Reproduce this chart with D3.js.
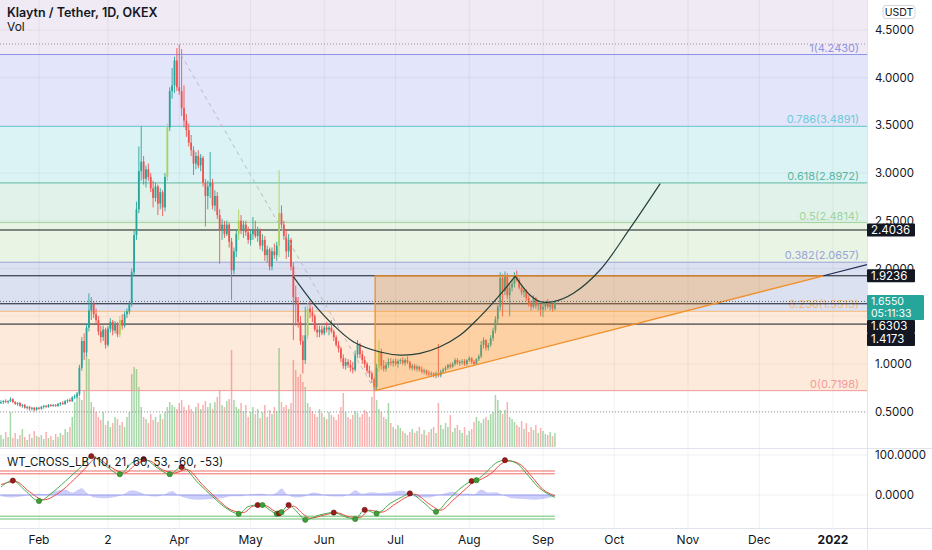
<!DOCTYPE html>
<html>
<head>
<meta charset="utf-8">
<script src="https://cdn.jsdelivr.net/npm/d3@7"></script>
<style>
html, body { margin: 0; padding: 0; background: #fff; }
svg { display: block; font-family: Inter, "Noto Sans", sans-serif; }
</style>
</head>
<body>
<svg id="chart" width="932" height="550"></svg>
<script>
// daily candles from 2021-01-16, [open, high, low, close]
const startDay = Date.UTC(2021, 0, 16);
const candles = [
  [0.60,0.62,0.58,0.60],[0.60,0.62,0.58,0.61],[0.61,0.63,0.59,0.60],[0.60,0.62,0.58,0.61],[0.61,0.65,0.60,0.63],
  [0.63,0.64,0.59,0.60],[0.60,0.61,0.57,0.58],[0.58,0.60,0.56,0.59],[0.59,0.60,0.55,0.56],[0.56,0.58,0.54,0.57],
  [0.57,0.58,0.53,0.54],[0.54,0.56,0.52,0.55],[0.55,0.56,0.51,0.53],[0.53,0.55,0.51,0.54],[0.54,0.55,0.50,0.52],
  [0.52,0.55,0.51,0.54],[0.54,0.55,0.52,0.53],[0.53,0.56,0.52,0.55],[0.55,0.57,0.53,0.56],[0.56,0.57,0.54,0.55],
  [0.55,0.58,0.54,0.57],[0.57,0.58,0.55,0.56],[0.56,0.58,0.55,0.57],[0.57,0.58,0.55,0.56],[0.56,0.59,0.55,0.58],
  [0.58,0.60,0.56,0.59],[0.59,0.61,0.57,0.58],[0.58,0.62,0.57,0.61],[0.61,0.63,0.59,0.62],[0.62,0.64,0.60,0.61],
  [0.61,0.66,0.60,0.65],[0.65,0.68,0.63,0.66],[0.66,0.70,0.64,0.68],[0.68,0.99,0.66,0.96],[0.96,1.28,0.93,1.24],
  [1.24,1.32,1.04,1.12],[1.12,1.42,1.08,1.38],[1.38,1.74,1.34,1.56],[1.56,1.70,1.46,1.63],[1.63,1.66,1.48,1.52],
  [1.52,1.58,1.42,1.46],[1.46,1.50,1.30,1.34],[1.34,1.40,1.22,1.28],[1.28,1.40,1.24,1.36],[1.36,1.38,1.16,1.20],
  [1.20,1.40,1.18,1.37],[1.37,1.48,1.33,1.44],[1.44,1.46,1.30,1.35],[1.35,1.45,1.32,1.42],[1.42,1.44,1.28,1.31],
  [1.31,1.50,1.28,1.46],[1.46,1.52,1.36,1.40],[1.40,1.55,1.38,1.52],[1.52,1.58,1.48,1.55],[1.55,1.66,1.52,1.63],
  [1.63,2.00,1.60,1.96],[1.96,2.40,1.92,2.35],[2.35,2.70,2.30,2.62],[2.62,3.28,2.58,3.02],[3.02,3.49,2.92,3.12],
  [3.12,3.18,2.88,2.94],[2.94,3.08,2.85,3.04],[3.04,3.10,2.92,2.96],[2.96,3.00,2.80,2.84],[2.84,2.92,2.64,2.74],
  [2.74,2.90,2.70,2.86],[2.86,2.88,2.56,2.68],[2.68,2.84,2.62,2.80],[2.80,2.82,2.55,2.64],[2.64,3.00,2.60,2.96],
  [2.96,3.52,2.92,3.48],[3.48,3.90,3.44,3.86],[3.86,4.10,3.78,3.92],[3.92,4.22,3.84,4.18],[4.18,4.31,3.86,3.90],
  [3.90,4.35,3.82,3.86],[3.86,4.30,3.60,3.68],[3.68,3.92,3.48,3.55],[3.55,3.62,3.38,3.45],[3.45,3.52,3.28,3.32],
  [3.32,3.40,3.18,3.24],[3.24,3.28,2.98,3.10],[3.10,3.22,3.04,3.18],[3.18,3.24,3.05,3.08],[3.08,3.20,3.02,3.16],
  [3.16,3.18,2.86,2.90],[2.90,2.94,2.44,2.76],[2.76,2.92,2.62,2.86],[2.86,3.22,2.74,2.90],[2.90,2.94,2.62,2.66],
  [2.66,2.82,2.60,2.76],[2.76,2.80,2.52,2.56],[2.56,2.62,2.05,2.40],[2.40,2.52,2.30,2.46],[2.46,2.50,2.32,2.36],
  [2.36,2.50,2.34,2.46],[2.46,2.48,2.22,2.28],[2.28,2.32,1.67,1.98],[1.98,2.22,1.94,2.18],[2.18,2.40,2.12,2.36],
  [2.36,2.62,2.30,2.50],[2.50,2.56,2.36,2.40],[2.40,2.50,2.32,2.46],[2.46,2.50,2.34,2.38],[2.38,2.44,2.26,2.30],
  [2.30,2.40,2.24,2.36],[2.36,2.54,2.30,2.40],[2.40,2.50,2.32,2.34],[2.34,2.44,2.28,2.40],[2.40,2.42,2.20,2.24],
  [2.24,2.36,2.18,2.30],[2.30,2.34,2.08,2.14],[2.14,2.24,2.06,2.20],[2.20,2.22,1.98,2.02],[2.02,2.22,1.98,2.18],
  [2.18,2.26,2.10,2.14],[2.14,2.28,2.08,2.24],[2.24,3.03,2.12,2.58],[2.58,2.66,2.40,2.46],[2.46,2.50,2.30,2.34],
  [2.34,2.40,2.10,2.18],[2.18,2.36,2.12,2.30],[2.30,2.32,1.98,2.02],[2.02,2.06,1.25,1.70],[1.70,1.82,1.40,1.64],
  [1.64,1.70,1.38,1.44],[1.44,1.50,1.20,1.24],[1.24,1.30,0.90,1.04],[1.04,1.60,1.00,1.30],[1.30,1.64,1.26,1.58],
  [1.58,1.66,1.48,1.54],[1.54,1.60,1.44,1.50],[1.50,1.52,1.34,1.36],[1.36,1.42,1.28,1.33],[1.33,1.40,1.28,1.36],
  [1.36,1.40,1.30,1.32],[1.32,1.40,1.30,1.38],[1.38,1.44,1.33,1.36],[1.36,1.40,1.30,1.38],[1.38,1.46,1.32,1.34],
  [1.34,1.36,1.24,1.28],[1.28,1.30,1.18,1.20],[1.20,1.24,1.12,1.16],[1.16,1.18,1.02,1.06],[1.06,1.10,0.95,0.98],
  [0.98,1.06,0.94,1.02],[1.02,1.05,0.96,0.99],[0.99,1.04,0.92,0.96],[0.96,1.02,0.90,0.94],[0.94,1.14,0.92,1.10],
  [1.10,1.25,1.06,1.20],[1.20,1.22,1.06,1.10],[1.10,1.14,1.00,1.04],[1.04,1.08,0.96,1.00],[1.00,1.02,0.90,0.93],
  [0.93,0.98,0.86,0.90],[0.90,0.92,0.80,0.84],[0.84,0.86,0.72,0.76],[0.76,1.00,0.72,0.96],[0.96,1.25,0.92,1.13],
  [1.13,1.16,0.94,0.98],[0.98,1.04,0.92,0.95],[0.95,1.02,0.92,0.99],[0.99,1.06,0.96,1.02],[1.02,1.06,0.98,1.01],
  [1.01,1.05,0.97,1.03],[1.03,1.06,0.98,1.00],[1.00,1.05,0.96,1.03],[1.03,1.06,1.00,1.04],[1.04,1.07,0.99,1.01],
  [1.01,1.06,0.98,1.04],[1.04,1.08,1.00,1.02],[1.02,1.03,0.94,0.96],[0.96,1.00,0.93,0.98],[0.98,1.00,0.93,0.95],
  [0.95,0.99,0.92,0.97],[0.97,0.98,0.92,0.94],[0.94,0.97,0.90,0.92],[0.92,0.95,0.89,0.93],[0.93,0.94,0.88,0.90],
  [0.90,0.93,0.87,0.89],[0.89,0.92,0.86,0.90],[0.90,0.91,0.86,0.88],[0.88,0.92,0.85,0.90],[0.90,1.21,0.86,0.88],
  [0.88,0.94,0.86,0.92],[0.92,0.96,0.90,0.94],[0.94,0.98,0.92,0.96],[0.96,1.00,0.94,0.99],[0.99,1.01,0.95,0.97],
  [0.97,1.02,0.96,1.00],[1.00,1.06,0.98,1.04],[1.04,1.06,0.99,1.01],[1.01,1.04,0.98,1.02],[1.02,1.05,0.99,1.03],
  [1.03,1.05,0.98,1.00],[1.00,1.05,0.98,1.04],[1.04,1.08,1.02,1.06],[1.06,1.07,1.00,1.02],[1.02,1.04,0.98,1.00],
  [1.00,1.06,0.99,1.05],[1.05,1.10,1.03,1.08],[1.08,1.24,1.06,1.20],[1.20,1.28,1.16,1.25],[1.25,1.26,1.14,1.17],
  [1.17,1.22,1.14,1.20],[1.20,1.30,1.18,1.27],[1.27,1.38,1.24,1.35],[1.35,1.50,1.32,1.47],[1.47,1.62,1.42,1.60],
  [1.60,1.96,1.56,1.90],[1.90,1.94,1.50,1.76],[1.76,1.97,1.72,1.93],[1.93,1.95,1.68,1.72],[1.72,1.84,1.50,1.80],
  [1.80,1.88,1.76,1.84],[1.84,1.96,1.80,1.92],[1.92,1.98,1.86,1.88],[1.88,1.90,1.78,1.80],[1.80,1.84,1.72,1.75],
  [1.75,1.80,1.70,1.77],[1.77,1.78,1.66,1.69],[1.69,1.72,1.60,1.63],[1.63,1.66,1.56,1.60],[1.60,1.72,1.58,1.69],
  [1.69,1.70,1.58,1.61],[1.61,1.66,1.56,1.62],[1.62,1.63,1.50,1.57],[1.57,1.64,1.49,1.60],[1.60,1.66,1.56,1.64],
  [1.64,1.68,1.58,1.60],[1.60,1.65,1.56,1.62],[1.62,1.63,1.55,1.58],[1.58,1.66,1.56,1.655]
];
const limeBars = [50, 70, 100, 117, 129, 159];

const volumes = [
  12,8,15,10,35,9,14,8,12,18,10,7,13,9,16,11,
  10,12,8,15,9,11,7,13,10,14,12,18,15,20,30,45,
  55,50,47,57,92,88,45,40,35,
  30,27,35,22,26,20,24,30,28,22,25,20,30,35,73,
  80,78,60,
  40,30,28,24,33,27,30,25,33,28,35,40,
  45,42,40,38,44,47,40,37,42,38,35,40,44,38,
  42,46,40,44,38,45,50,57,42,40,46,48,
  97,
  47,40,38,44,36,42,30,35,40,33,38,29,35,42,30,37,33,40,36,
  99,45,
  40,42,38,44,
  87,77,70,
  73,65,60,
  44,40,36,33,30,38,34,30,28,35,32,30,27,
  33,40,54,35,30,28,32,36,34,30,33,37,35,30,
  50,60,47,38,35,
  30,28,44,24,20,18,22,19,16,14,
  12,15,18,14,16,20,13,17,12,15,18,20,14,
  44,
  22,18,24,20,32,15,19,22,17,14,20,12,16,18,25,
  30,26,24,28,30,27,33,35,
  52,47,37,33,37,45,
  30,28,25,22,20,26,18,24,15,20,17,22,14,19,16,13,12,15,11,14
];

// fibonacci retracement
const fibLevels = [1, 0.786, 0.618, 0.5, 0.382, 0.236, 0];
const fibPrices = [4.2430, 3.4891, 2.8972, 2.4814, 2.0657, 1.5513, 0.7198];
const fibLineColors = ["#8f93e6", "#6fcad9", "#5bb79f", "#9fd49c", "#9aa2d8", "#f6b877", "#f09a9a"];
const fibBandColors = ["#efeaf4", "#e3e5fa", "#dcf3f6", "#e1f2eb", "#e9f4e5", "#dce1f2", "#fdeadb"];
const fibTrend = [[75.7, 4.2430], [157.4, 0.7198]];

// user lines and price labels
const hLines = [2.4036, 1.9236, 1.6303, 1.4173];
const rangeLines = [4.353, 0.496];
const lastPrice = 1.6550;
const countdown = "05:11:33";

// triangle drawing (day index, price)
const triTop = [157.4, 1.9236];
const triBottom = [157.4, 0.7198];
const triApex = [346, 1.9236];
const trendEnd = [364.3, 2.04];

// cup curves (day index, price)
const cup1 = [[123,1.914],[131.4,1.635],[139.8,1.408],[148.2,1.233],[159.5,1.125],[167.9,1.093],[176.3,1.11],
  [184.7,1.18],[193.1,1.30],[201.5,1.495],[208.6,1.687],[212.8,1.81],[216.3,1.92]];
const cup2 = [[216.3,1.92],[218.4,1.845],[222.6,1.72],[226.8,1.652],[232.4,1.652],[240.8,1.74],[252,1.984],
  [264.6,2.42],[277.3,2.89]];

const priceTicks = [0.5, 1, 1.5, 2, 2.5, 3, 3.5, 4, 4.5];
const timeTicks = [["2021-02-01","Feb"],["2021-03-02","2"],["2021-04-01","Apr"],["2021-05-01","May"],
  ["2021-06-01","Jun"],["2021-07-01","Jul"],["2021-08-01","Aug"],["2021-09-01","Sep"],["2021-10-01","Oct"],
  ["2021-11-01","Nov"],["2021-12-01","Dec"],["2022-01-01","2022"]];

// WT_CROSS_LB (day index, value)
const wt1 = [[0,20],[5,36],[10,12],[16,-15],[22,8],[29,45],[34,72],[38,97],[44,73],[50,52],[55,80],[60,90],
  [66,67],[71,52],[76,70],[83,30],[89,-4],[95,-34],[100,-47],[104,-29],[108,-25],[110,-26],[113,-37],[116,-47],
  [118,-43],[121,-25],[125,-45],[128,-62],[134,-50],[140,-44],[145,-55],[149,-60],[153,-37],[158,-46],[164,-20],
  [169,-4],[172,4],[178,-20],[183,-42],[188,-13],[194,20],[198,35],[200,38],[205,62],[208,79],[212,87],[217,79],
  [221,54],[226,20],[233,-6]];
const wt2 = [[0,26],[6,34],[12,8],[18,-12],[24,4],[31,40],[36,70],[40,92],[46,70],[52,55],[57,78],[62,86],
  [68,63],[73,55],[78,64],[85,24],[91,-10],[97,-38],[102,-44],[106,-28],[110,-25],[112,-28],[115,-40],[118,-45],
  [120,-38],[123,-28],[127,-47],[130,-58],[136,-50],[141,-44],[147,-55],[151,-56],[155,-38],[160,-43],[166,-22],
  [171,-4],[174,2],[180,-22],[185,-38],[190,-14],[196,18],[199,33],[201,37],[207,58],[210,76],[214,85],[219,74],
  [223,48],[228,14],[233,-2]];
const wtDiff = [[0,-3],[4,-6],[9,-3],[12,0],[16,3],[19,2],[23,10],[27,14],[30,6],[32,12],[34,17],[36,6],[39,-6],
  [43,-8],[48,-5],[51,0],[55,12],[58,8],[61,0],[65,-4],[69,2],[72,10],[74,2],[78,-8],[83,-12],[88,-10],[93,-8],
  [97,-3],[101,-3],[105,2],[110,3],[113,0],[116,6],[118,16],[120,4],[124,-6],[128,-3],[131,6],[134,4],[138,-3],
  [143,-4],[147,4],[149,12],[152,3],[156,7],[160,5],[164,7],[169,11],[172,2],[175,-6],[180,-6],[184,0],[188,6],
  [190,8],[193,3],[196,4],[199,2],[202,14],[205,6],[208,7],[211,0],[215,-8],[220,-10],[225,-12],[229,-9],[233,-4]];
const wtDots = [[5,36,"r"],[16,-15,"g"],[38,97,"r"],[50,52,"g"],[60,90,"r"],[71,52,"g"],[76,70,"r"],[100,-47,"g"],
  [108,-25,"r"],[110,-25,"g"],[116,-47,"g"],[117,-46,"r"],[118,-43,"g"],[121,-25,"r"],[128,-62,"g"],[140,-44,"r"],
  [149,-60,"g"],[153,-37,"r"],[158,-46,"g"],[172,4,"r"],[183,-42,"g"],[198,35,"r"],[200,37,"g"],[212,87,"r"]];
const wtUpper = [60, 53];
const wtLower = [-53, -60];
const wtTicks = [100, 0];

// ---------------------------------------------------------------
const svg = d3.select("#chart");
const W = 932, plotR = 867, paneB = 448, indB = 528;
const up = "#26a69a", down = "#ef5350", lime = "#a9d35b", ink = "#131722";

const x = d3.scaleUtc()
    .domain([new Date(Date.UTC(2021, 1, 1)), new Date(Date.UTC(2022, 0, 1))])
    .range([39, 833]);
const dayDate = i => new Date(startDay + i * 864e5);
const xi = i => x(dayDate(i));
const y = d3.scaleLinear().domain([0.5, 4.5]).range([411.6, 30]);
const yVol = d3.scaleLinear().domain([0, 100]).range([447, 347]);
const yWt = d3.scaleLinear().domain([0, 100]).range([495, 455]);

svg.append("rect").attr("width", W).attr("height", 550).attr("fill", "#fff");

const defs = svg.append("defs");
defs.append("clipPath").attr("id", "pclip").append("rect")
    .attr("x", 0).attr("y", 0).attr("width", plotR).attr("height", paneB);
defs.append("clipPath").attr("id", "iclip").append("rect")
    .attr("x", 0).attr("y", paneB).attr("width", plotR).attr("height", indB - paneB);

let pane = svg.append("g").attr("clip-path", "url(#pclip)");

// fib background bands
let bandEdges = [0].concat(fibPrices.map(p => y(p)));
pane.append("g").selectAll("rect")
    .data(fibBandColors)
    .enter().append("rect")
      .attr("x", 0)
      .attr("y", (d, i) => bandEdges[i])
      .attr("width", plotR)
      .attr("height", (d, i) => bandEdges[i + 1] - bandEdges[i])
      .attr("fill", d => d);

// grid
pane.append("g").selectAll("line")
    .data(timeTicks)
    .enter().append("line")
      .attr("x1", d => x(new Date(d[0]))).attr("x2", d => x(new Date(d[0])))
      .attr("y1", 0).attr("y2", paneB)
      .attr("stroke", "rgba(42,46,57,0.06)");
pane.append("g").selectAll("line")
    .data(priceTicks)
    .enter().append("line")
      .attr("x1", 0).attr("x2", plotR)
      .attr("y1", d => y(d)).attr("y2", d => y(d))
      .attr("stroke", "rgba(42,46,57,0.06)");

// volume
pane.append("g").selectAll("rect")
    .data(volumes)
    .enter().append("rect")
      .attr("x", (d, i) => xi(i) - 0.75)
      .attr("y", d => yVol(d))
      .attr("width", 1.5)
      .attr("height", d => yVol(0) - yVol(d))
      .attr("fill", (d, i) => candles[i][3] >= candles[i][0] ? "rgba(76,175,80,0.5)" : "rgba(239,83,80,0.45)");

// fib lines and labels
pane.append("g").selectAll("line")
    .data(fibPrices)
    .enter().append("line")
      .attr("x1", 0).attr("x2", plotR)
      .attr("y1", d => y(d)).attr("y2", d => y(d))
      .attr("stroke", (d, i) => fibLineColors[i]);
pane.append("g")
    .attr("font-size", 11).attr("text-anchor", "end")
  .selectAll("text")
    .data(fibPrices)
    .enter().append("text")
      .attr("x", 859)
      .attr("y", d => y(d) - 3)
      .attr("fill", (d, i) => fibLineColors[i])
      .text((d, i) => fibLevels[i] + "(" + d.toFixed(4) + ")");

// high / low dotted lines
pane.append("g").selectAll("line")
    .data(rangeLines)
    .enter().append("line")
      .attr("x1", 0).attr("x2", plotR)
      .attr("y1", d => y(d)).attr("y2", d => y(d))
      .attr("stroke", "#9598a1").attr("stroke-dasharray", "1,2");

// black horizontal lines
pane.append("g").selectAll("line")
    .data(hLines)
    .enter().append("line")
      .attr("x1", 0).attr("x2", plotR)
      .attr("y1", d => y(d)).attr("y2", d => y(d))
      .attr("stroke", ink).attr("stroke-width", 1);

// candles
let cg = pane.append("g").selectAll("g")
    .data(candles)
    .enter().append("g");
const candleColor = (d, i) => limeBars.includes(i) ? lime : (d[3] >= d[0] ? up : down);
cg.append("line")
    .attr("x1", (d, i) => xi(i)).attr("x2", (d, i) => xi(i))
    .attr("y1", d => y(d[1])).attr("y2", d => y(d[2]))
    .attr("stroke", candleColor).attr("stroke-width", 0.9);
cg.append("rect")
    .attr("x", (d, i) => xi(i) - 0.9)
    .attr("y", d => y(Math.max(d[0], d[3])))
    .attr("width", 1.8)
    .attr("height", d => Math.max(1, Math.abs(y(d[0]) - y(d[3]))))
    .attr("fill", candleColor);

// triangle
let pt = d => [xi(d[0]), y(d[1])];
pane.append("path")
    .attr("d", d3.line()([pt(triTop), pt(triBottom), pt(triApex)]) + "Z")
    .attr("fill", "rgba(255,145,20,0.28)");
pane.append("path")
    .attr("d", d3.line()([pt(triApex), pt(triTop), pt(triBottom), pt(triApex)]))
    .attr("fill", "none").attr("stroke", "#f0902a").attr("stroke-width", 1.3);
pane.append("path")
    .attr("d", d3.line()([pt(triApex), pt(trendEnd)]))
    .attr("fill", "none").attr("stroke", "#1f2d4f").attr("stroke-width", 1.2);

// fib trend (dashed)
pane.append("path")
    .attr("d", d3.line()(fibTrend.map(pt)))
    .attr("fill", "none").attr("stroke", "#b8bbc4").attr("stroke-dasharray", "4,4");

// cup curves
let curve = d3.line().x(d => xi(d[0])).y(d => y(d[1])).curve(d3.curveCatmullRom.alpha(0.5));
[cup1, cup2].forEach(c => {
  pane.append("path").attr("d", curve(c))
      .attr("fill", "none").attr("stroke", "#24403b").attr("stroke-width", 1.2);
});

// last price line
pane.append("line")
    .attr("x1", 0).attr("x2", plotR)
    .attr("y1", y(lastPrice)).attr("y2", y(lastPrice))
    .attr("stroke", "#4a6b68").attr("stroke-dasharray", "1,2");

// ---------------- indicator pane
let ind = svg.append("g").attr("clip-path", "url(#iclip)");
ind.append("g").selectAll("line")
    .data(timeTicks)
    .enter().append("line")
      .attr("x1", d => x(new Date(d[0]))).attr("x2", d => x(new Date(d[0])))
      .attr("y1", paneB).attr("y2", indB)
      .attr("stroke", "rgba(42,46,57,0.06)");
ind.append("g").selectAll("line")
    .data(wtTicks)
    .enter().append("line")
      .attr("x1", 0).attr("x2", plotR)
      .attr("y1", d => yWt(d)).attr("y2", d => yWt(d))
      .attr("stroke", "rgba(42,46,57,0.07)");

let lastDay = candles.length - 1;
ind.append("g").selectAll("line")
    .data(wtUpper.concat(wtLower))
    .enter().append("line")
      .attr("x1", 0).attr("x2", xi(lastDay))
      .attr("y1", d => yWt(d)).attr("y2", d => yWt(d))
      .attr("stroke", d => d > 0 ? "#ef6b64" : "#6cc070");

ind.append("path")
    .attr("d", d3.area().x(d => xi(d[0])).y0(yWt(0)).y1(d => yWt(d[1])).curve(d3.curveMonotoneX)(wtDiff))
    .attr("fill", "rgba(110,112,238,0.35)");
ind.append("line")
    .attr("x1", 0).attr("x2", xi(lastDay))
    .attr("y1", yWt(0)).attr("y2", yWt(0))
    .attr("stroke", "#9c9ff0");

let wtLine = d3.line().x(d => xi(d[0])).y(d => yWt(d[1])).curve(d3.curveMonotoneX);
ind.append("path").attr("d", wtLine(wt2))
    .attr("fill", "none").attr("stroke", "#ea4a3f").attr("stroke-width", 1);
ind.append("path").attr("d", wtLine(wt1))
    .attr("fill", "none").attr("stroke", "#46a84e").attr("stroke-width", 1);
ind.append("g").selectAll("circle")
    .data(wtDots)
    .enter().append("circle")
      .attr("cx", d => xi(d[0])).attr("cy", d => yWt(d[1]))
      .attr("r", 2.6)
      .attr("fill", d => d[2] === "r" ? "#971c1c" : "#3f9e36")
      .attr("stroke", d => d[2] === "r" ? "#6e1010" : "#2b7a25").attr("stroke-width", 0.6);

// ---------------- frame
svg.append("line").attr("x1", 0).attr("x2", W).attr("y1", paneB + 0.5).attr("y2", paneB + 0.5).attr("stroke", "#e0e3eb");
svg.append("line").attr("x1", 0).attr("x2", W).attr("y1", indB + 0.5).attr("y2", indB + 0.5).attr("stroke", "#e0e3eb");
svg.append("line").attr("x1", plotR + 0.5).attr("x2", plotR + 0.5).attr("y1", 0).attr("y2", 550).attr("stroke", "#e0e3eb");

// price labels with stacking (computed first so fully covered ticks are skipped)
let tags = hLines.map(p => ({ p: p, h: 13, w: 48, fill: ink, lines: [d3.format(".4f")(p)] }));
tags.push({ p: lastPrice, h: 25, w: 57, fill: up, lines: [d3.format(".4f")(lastPrice), countdown] });
tags.sort((a, b) => y(a.p) - y(b.p));
let prevBottom = -Infinity;
tags.forEach(t => {
  t.top = Math.max(y(t.p) - 6.5, prevBottom);
  prevBottom = t.top + t.h;
});
const covered = v => tags.some(t => y(v) > t.top + 1 && y(v) < t.top + t.h - 1);

// price axis
svg.append("g")
    .attr("font-size", 11.5).attr("fill", ink)
  .selectAll("text")
    .data(priceTicks.filter(v => !covered(v)))
    .enter().append("text")
      .attr("x", 875).attr("y", d => y(d)).attr("dy", "0.35em")
      .text(d => d3.format(".4f")(d));
svg.append("g")
    .attr("font-size", 11.5).attr("fill", ink)
  .selectAll("text")
    .data(wtTicks)
    .enter().append("text")
      .attr("x", 875).attr("y", d => yWt(d)).attr("dy", "0.35em")
      .text(d => d3.format(".4f")(d));

// USDT badge
svg.append("rect").attr("x", 883).attr("y", 5.5).attr("width", 32).attr("height", 13).attr("rx", 3)
    .attr("fill", "#fff").attr("stroke", "#d1d4dc");
svg.append("text").attr("x", 899).attr("y", 12).attr("dy", "0.35em")
    .attr("text-anchor", "middle").attr("font-size", 10.5).attr("fill", ink).text("USDT");

let tg = svg.append("g").selectAll("g")
    .data(tags)
    .enter().append("g")
      .attr("transform", d => "translate(" + plotR + "," + d.top + ")");
tg.append("rect").attr("width", d => d.w).attr("height", d => d.h).attr("rx", 1).attr("fill", d => d.fill);
tg.each(function(d) {
  d3.select(this).selectAll("text")
    .data(d.lines)
    .enter().append("text")
      .attr("x", 4).attr("y", (s, k) => 6.5 + k * 11.5).attr("dy", "0.35em")
      .attr("font-size", d.lines.length > 1 ? 10.5 : 11.5).attr("fill", "#fff")
      .text(s => s);
});

// time axis
svg.append("g")
    .attr("font-size", 12).attr("fill", ink).attr("text-anchor", "middle")
  .selectAll("text")
    .data(timeTicks)
    .enter().append("text")
      .attr("x", d => x(new Date(d[0])))
      .attr("y", 540).attr("dy", "0.35em")
      .attr("font-weight", d => d[1] === "2022" ? 700 : 400)
      .text(d => d[1]);

// legends
svg.append("text").attr("x", 7).attr("y", 17).attr("font-size", 12.5).attr("font-weight", 600)
    .attr("fill", ink).text("Klaytn / Tether, 1D, OKEX");
svg.append("text").attr("x", 7).attr("y", 30.5).attr("font-size", 12)
    .attr("fill", ink).text("Vol");
svg.append("text").attr("x", 7).attr("y", 465.5).attr("font-size", 11.5)
    .attr("fill", ink).text("WT_CROSS_LB (10, 21, 60, 53, -60, -53)");
</script>
</body>
</html>
